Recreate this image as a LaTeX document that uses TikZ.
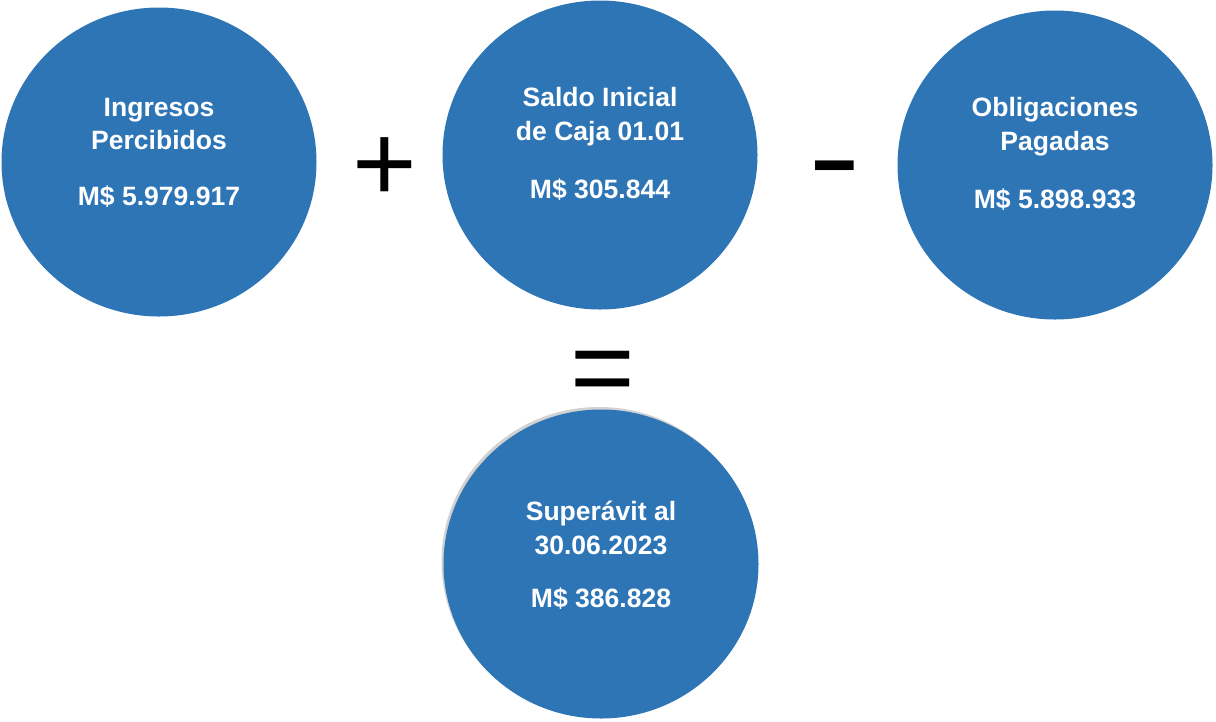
\documentclass[tikz,border=0pt]{standalone}
\usepackage{fontspec}
\setmainfont{Liberation Sans}
\usepackage{tikz}
\usetikzlibrary{shapes.geometric}
\definecolor{circblue}{RGB}{46,117,182}

\begin{document}
\begin{tikzpicture}[x=0.02cm, y=-0.02cm,
	bubble/.style={ellipse, fill=circblue, draw=none, minimum width=315*0.02cm, minimum height=309*0.02cm, inner sep=0},
	title/.style={text=white, font=\bfseries\fontsize{15.1}{19.3}\selectfont, align=center, inner sep=0},
	amount/.style={text=white, font=\bfseries\fontsize{15.1}{19.3}\selectfont, inner sep=0},
	oper/.style={anchor=base, inner sep=0, font=\fontsize{63}{63}\selectfont}]
	\useasboundingbox (0,0) rectangle (1216,721);
	% the four circles
	\node[bubble] (ing) at (159,162) {};
	\node[bubble] (sal) at (600,155) {};
	\node[bubble] (obl) at (1055,165) {};
	\fill[black!18] (599,561.5) ellipse (157.5*0.02cm and 154.5*0.02cm);
	\node[bubble] (sup) at (601,564) {};
	% texts
	\node[title] (ingT) at ([yshift=38*0.02cm]ing.center) {Ingresos\\Percibidos};
	\node[amount] (ingM) at ([yshift=-35*0.02cm]ing.center) {M\$ 5.979.917};
	\node[title] (salT) at ([yshift=38*0.02cm]sal.center) {Saldo Inicial\\de Caja 01.01};
	\node[amount] (salM) at ([yshift=-35*0.02cm]sal.center) {M\$ 305.844};
	\node[title] (oblT) at ([yshift=38*0.02cm]obl.center) {Obligaciones\\Pagadas};
	\node[amount] (oblM) at ([yshift=-35*0.02cm]obl.center) {M\$ 5.898.933};
	\node[title] (supT) at ([yshift=36*0.02cm]sup.center) {Superávit al\\30.06.2023};
	\node[amount] (supM) at ([yshift=-35*0.02cm]sup.center) {M\$ 386.828};
	% operators
	\node[oper] (plus) at (385,201) {+};
	\node[oper, font=\fontsize{90}{90}\selectfont, yscale=0.78, transform shape] (minus) at (835,198) {-};
	\node[oper] (equal) at (603,405) {=};
\end{tikzpicture}
\end{document}
